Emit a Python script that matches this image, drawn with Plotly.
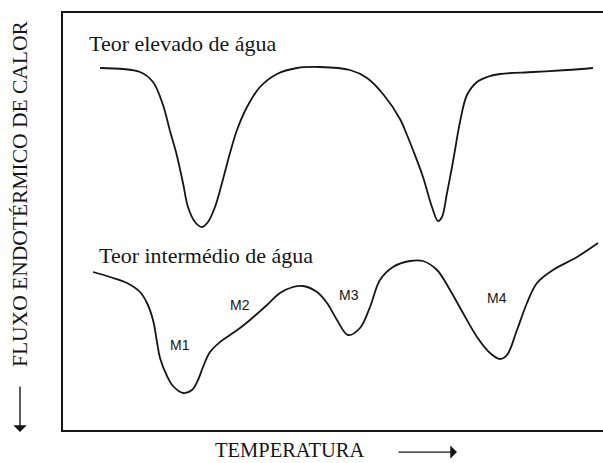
import plotly.graph_objects as go

# DSC-style thermograms: temperature (arbitrary units) vs. endothermic heat flow
temp_high = [37, 77, 90, 100, 107, 113, 120, 125, 132, 139, 145, 152, 159, 167, 174,
             184, 197, 214, 234, 257, 287, 304, 320, 337, 344, 350, 360, 369, 375,
             379, 384, 389, 392, 397, 404, 414, 424, 437, 470, 504, 530]
flow_high = [362, 358, 348, 325, 299, 278, 247, 223, 208, 203, 208, 223, 247, 277, 300,
             323, 343, 356, 362, 363, 360, 352, 336, 311, 295, 280, 253, 223, 209,
             213, 237, 263, 280, 308, 335, 348, 353, 356, 358, 360, 362]

temp_mid = [30, 47, 64, 77, 84, 90, 94, 97, 104, 110, 120, 129, 135, 140, 147, 157,
            167, 177, 187, 195, 204, 217, 230, 240, 254, 264, 274, 285, 297, 307,
            317, 330, 347, 360, 374, 387, 400, 414, 427, 437, 444, 454, 464, 474,
            490, 514, 535]
flow_mid = [158, 153, 147, 138, 127, 110, 88, 72, 54, 44, 37, 40, 50, 63, 78, 88,
            95, 102, 110, 117, 125, 137, 143, 144, 138, 127, 110, 95, 102, 123,
            150, 163, 169, 169, 160, 140, 117, 93, 77, 71, 75, 100, 127, 147,
            160, 173, 187]

curve_labels = ["Teor elevado de água", "Teor intermédio de água"]
curve_label_pos = [(24, 387), (34, 175)]
peak_names = ["M1", "M2", "M3", "M4"]
peak_pos = [(117, 85), (177, 125), (286, 135), (434, 132)]

INK = "#161616"
SERIF = "Liberation Serif, Times New Roman, serif"
SANS = "Liberation Sans, Arial, sans-serif"

fig = go.Figure()
for t, f in [(temp_high, flow_high), (temp_mid, flow_mid)]:
    fig.add_trace(go.Scatter(
        x=t, y=f, mode="lines",
        line=dict(color=INK, width=1.8, shape="spline", smoothing=1.0),
        hoverinfo="skip", showlegend=False,
    ))

annotations = []
for text, (x, y) in zip(curve_labels, curve_label_pos):
    annotations.append(dict(x=x, y=y, xref="x", yref="y", text=text, showarrow=False,
                            xanchor="left", yanchor="middle",
                            font=dict(family=SERIF, size=22, color=INK)))
for text, (x, y) in zip(peak_names, peak_pos):
    annotations.append(dict(x=x, y=y, xref="x", yref="y", text=text, showarrow=False,
                            xanchor="center", yanchor="middle",
                            font=dict(family=SANS, size=14, color=INK)))

# axis titles with direction arrows
annotations.append(dict(x=-0.0796, y=0.566, xref="paper", yref="paper",
                        xanchor="center", yanchor="middle",
                        text="FLUXO ENDOTÉRMICO DE CALOR", textangle=-90, showarrow=False,
                        font=dict(family=SERIF, size=21.5, color=INK)))
annotations.append(dict(x=-0.0796, y=-0.005, xref="paper", yref="paper", text="",
                        showarrow=True, ax=0, ay=-47, arrowhead=1, arrowsize=1.6,
                        arrowwidth=1.4, arrowcolor=INK, standoff=0))
annotations.append(dict(x=0.420, y=-0.048, xref="paper", yref="paper",
                        xanchor="center", yanchor="middle",
                        text="TEMPERATURA", showarrow=False,
                        font=dict(family=SERIF, size=20.5, color=INK)))
annotations.append(dict(x=0.7296, y=-0.053, xref="paper", yref="paper", text="",
                        showarrow=True, ax=-60, ay=0, arrowhead=1, arrowsize=1.6,
                        arrowwidth=1.4, arrowcolor=INK, standoff=0))

fig.update_layout(
    width=603, height=463, autosize=False,
    margin=dict(l=63, r=0, t=13, b=33),
    paper_bgcolor="white", plot_bgcolor="white",
    annotations=annotations,
    xaxis=dict(range=[0, 540], showgrid=False, zeroline=False, showticklabels=False,
               ticks="", showline=True, mirror=True, linecolor=INK, linewidth=2),
    yaxis=dict(range=[0, 417], showgrid=False, zeroline=False, showticklabels=False,
               ticks="", showline=True, mirror=False, linecolor=INK, linewidth=2),
)

fig.write_html("out.html")
